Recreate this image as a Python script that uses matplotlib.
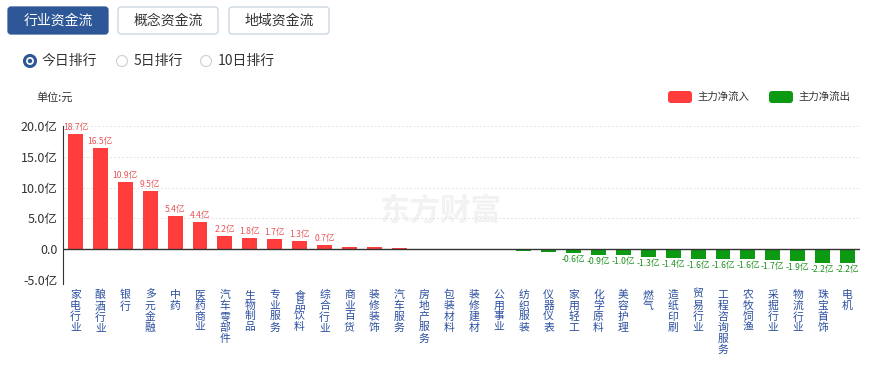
import numpy as np
import matplotlib.pyplot as plt
from matplotlib.patches import FancyBboxPatch, Circle

plt.rcParams['font.family'] = ['Noto Sans CJK SC', 'DejaVu Sans']

# data (unit: 亿元)
industries = ['家电行业', '酿酒行业', '银行', '多元金融', '中药', '医药商业', '汽车零部件',
              '生物制品', '专业服务', '食品饮料', '综合行业', '商业百货', '装修装饰', '汽车服务',
              '房地产服务', '包装材料', '装修建材', '公用事业', '纺织服装', '仪器仪表', '家用轻工',
              '化学原料', '美容护理', '燃气', '造纸印刷', '贸易行业', '工程咨询服务', '农牧饲渔',
              '采掘行业', '物流行业', '珠宝首饰', '电机']
net_flow = [18.7, 16.5, 10.9, 9.5, 5.4, 4.4, 2.2, 1.8, 1.7, 1.3, 0.7, 0.42, 0.28, 0.26,
            0.1, -0.05, -0.15, -0.18, -0.3, -0.38, -0.6, -0.9, -1.0, -1.3, -1.4, -1.6, -1.6,
            -1.6, -1.7, -1.9, -2.2, -2.2]
yticks = [-5, 0, 5, 10, 15, 20]

red = '#ff3d3d'
green = '#0b9a12'
blue = '#2d5796'

W, H = 873, 366
fig = plt.figure(figsize=(W / 100, H / 100), dpi=100)

# overlay for the page controls (pixel coordinates)
ui = fig.add_axes([0, 0, 1, 1])
ui.set_xlim(0, W)
ui.set_ylim(H, 0)
ui.axis('off')

tabs = [('行业资金流', 8, True), ('概念资金流', 118, False), ('地域资金流', 229, False)]
for label, x0, active in tabs:
    ui.add_patch(FancyBboxPatch((x0, 7), 100, 27, boxstyle='round,pad=0,rounding_size=3',
                                fc=blue if active else 'white',
                                ec=blue if active else '#c9d3e0', lw=0.9))
    ui.text(x0 + 50, 21, label, ha='center', va='center', fontsize=10,
            color='white' if active else '#333333')

radios = [('今日排行', 30, True), ('5日排行', 122, False), ('10日排行', 206, False)]
for label, cx, on in radios:
    if on:
        ui.add_patch(Circle((cx, 61), 5.5, fc='white', ec=blue, lw=2.2))
        ui.add_patch(Circle((cx, 61), 2.2, fc=blue, ec='none'))
    else:
        ui.add_patch(Circle((cx, 61), 5.5, fc='white', ec='#cfcfcf', lw=0.8))
    ui.text(cx + 12, 61, label, ha='left', va='center', fontsize=10, color='#333333')

ui.text(36, 97, '单位:元', ha='left', va='center', fontsize=8, color='#333333')
for x0, c, label in [(668, red, '主力净流入'), (769, green, '主力净流出')]:
    ui.add_patch(FancyBboxPatch((x0, 91), 24, 12, boxstyle='round,pad=0,rounding_size=3',
                                fc=c, ec='none'))
    ui.text(x0 + 29, 97, label, ha='left', va='center', fontsize=7.5, color='#333333')

ui.text(440, 211, '东方财富', ha='center', va='center', fontsize=22, fontweight='bold',
        color='#f2f2f2')

# chart
ax = fig.add_axes([63 / W, 1 - 280 / H, 797 / W, 154 / H])
ax.set_zorder(2)
ax.patch.set_alpha(0)
x = np.arange(len(industries))
vals = np.array(net_flow)
colors = [red if v >= 0 else green for v in vals]
ax.bar(x, vals, width=0.6, color=colors, zorder=3)

for xi, v in zip(x, vals):
    if v >= 0.5:
        ax.text(xi, v + 0.3, f'{v:.1f}亿', ha='center', va='bottom', fontsize=6.2,
                color='#e8555a')
    elif v <= -0.5:
        ax.text(xi, v - 0.3, f'{v:.1f}亿', ha='center', va='top', fontsize=6.2,
                color='#1f8f1f')

ax.set_xlim(-0.5, len(industries) - 0.5)
ax.set_ylim(-5, 20)
ax.set_yticks(yticks)
ax.set_yticklabels([f'{t:.1f}亿' if t != 0 else '0.0' for t in yticks],
                   fontsize=9, color='#333333')
ax.yaxis.grid(True, linestyle=(0, (2, 2)), color='#e3e3e3', lw=0.7)
ax.axhline(0, color='#333333', lw=1, zorder=4)

ax.set_xticks(x)
ax.set_xticklabels(['\n'.join(s) for s in industries], fontsize=7.8, color='#2b4f9e',
                   va='top', linespacing=1.1)
ax.tick_params(axis='x', length=0, pad=7)
ax.tick_params(axis='y', length=0, pad=4)
for side in ['top', 'right', 'bottom']:
    ax.spines[side].set_visible(False)
ax.spines['left'].set_color('#333333')
ax.spines['left'].set_bounds(-5.6, 20)

fig.savefig('out.png', dpi=100)
